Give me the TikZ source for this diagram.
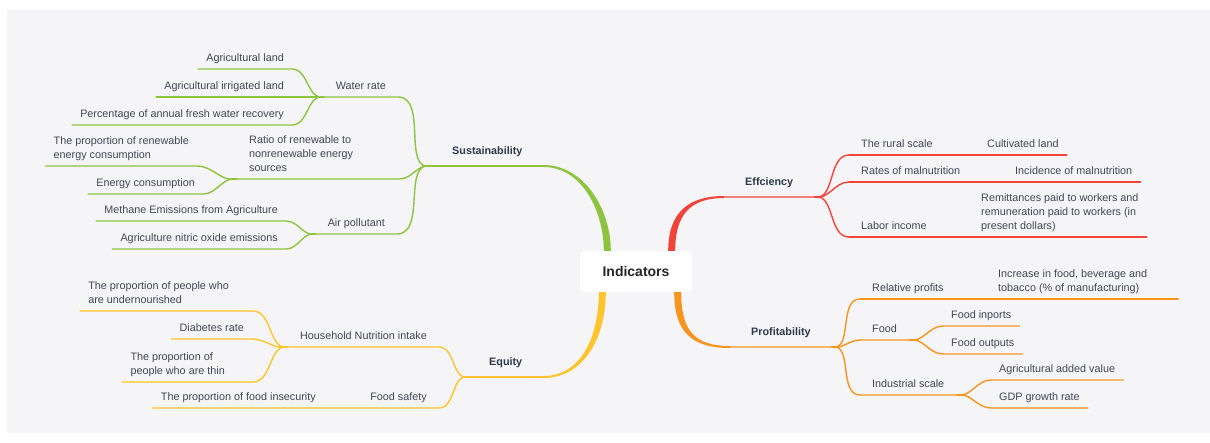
\documentclass[tikz,border=0pt]{standalone}
\usepackage{fontspec}
\setmainfont{Liberation Sans}
\usepackage{tikz}
\definecolor{mybg}{RGB}{245, 245, 248}
\definecolor{mygreen}{RGB}{141, 195, 63}
\definecolor{myred}{RGB}{240, 67, 58}
\definecolor{myorange}{RGB}{247, 148, 30}
\definecolor{myyellow}{RGB}{255, 196, 46}
\definecolor{mytext}{RGB}{64, 70, 84}
\definecolor{mynavy}{RGB}{44, 56, 76}
\tikzset{
  txt/.style={font=\fontsize{10.8}{14}\selectfont, text=mytext, inner ysep=4.5pt, text depth=2.5pt, align=left},
  leaf/.style={txt, inner xsep=8pt},
  sub/.style={txt, inner xsep=12pt},
  main/.style={font=\bfseries\fontsize{10.8}{14}\selectfont, text=mynavy, inner xsep=21pt, inner ysep=8.5pt, text depth=2.5pt},
  gl/.style={draw=mygreen, line width=1.4pt, line cap=round},
  yl/.style={draw=myyellow, line width=1.4pt, line cap=round},
  rl/.style={draw=myred, line width=1.4pt, line cap=round},
  ol/.style={draw=myorange, line width=1.4pt, line cap=round},
  lup/.style={out=0, in=192},
  ldn/.style={out=0, in=168},
  rup/.style={out=-12, in=180},
  rdn/.style={out=12, in=180},
}

\begin{document}
\begin{tikzpicture}[x=1pt, y=-1pt]
\useasboundingbox (0,0) rectangle (1210,442);
\fill[mybg] (7,10) rectangle (1210,433);

\node[fill=white, rounded corners=4pt, minimum width=112pt, minimum height=41pt, font=\bfseries\fontsize{14}{16}\selectfont, text=black!85] (ctr) at (636,271.5) {Indicators};

% first level
\node[main, anchor=south west] (sus) at (431,166) {Sustainability};
\node[main, anchor=south west] (eq) at (468,377) {Equity};
\node[main, anchor=south west] (ef) at (724,197) {Effciency};
\node[main, anchor=south west] (pf) at (730,347) {Profitability};

% second level
\node[sub, anchor=south east] (wr) at (398,97) {Water rate};
\node[sub, anchor=south west] (rt) at (237,179) {Ratio of renewable to\\nonrenewable energy\\sources};
\node[sub, anchor=south east] (ap) at (397,234) {Air pollutant};
\node[sub, anchor=south east] (hn) at (439,347) {Household Nutrition intake};
\node[sub, anchor=south east] (fs) at (439,408) {Food safety};
\node[sub, anchor=south west] (rs) at (849,155) {The rural scale};
\node[sub, anchor=south west] (rm) at (849,182) {Rates of malnutrition};
\node[sub, anchor=south west] (li) at (849,237) {Labor income};
\node[sub, anchor=south west] (rel) at (860,299) {Relative profits};
\node[sub, anchor=south west] (fd) at (860,340) {Food};
\node[sub, anchor=south west] (ind) at (860,395) {Industrial scale};

% leaves
\node[leaf, anchor=south east] (a1) at (292,69) {Agricultural land};
\node[leaf, anchor=south east] (a2) at (292,97) {Agricultural irrigated land};
\node[leaf, anchor=south east] (a3) at (292,125) {Percentage of annual fresh water recovery};
\node[leaf, anchor=south east] (rc) at (197,166) {The proportion of renewable\\energy consumption};
\node[leaf, anchor=south east] (ec) at (203,194) {Energy consumption};
\node[leaf, anchor=south east] (me) at (286,221) {Methane Emissions from Agriculture};
\node[leaf, anchor=south east] (no) at (286,249) {Agriculture nitric oxide emissions};
\node[leaf, anchor=south east] (pu) at (237,311) {The proportion of people who\\are undernourished};
\node[leaf, anchor=south east] (dr) at (252,339) {Diabetes rate};
\node[leaf, anchor=south east] (pt) at (233,382) {The proportion of\\people who are thin};
\node[leaf, anchor=south east] (fi) at (324,408) {The proportion of food insecurity};
\node[leaf, anchor=south west] (cl) at (979,155) {Cultivated land};
\node[leaf, anchor=south west] (im) at (1007,182) {Incidence of malnutrition};
\node[leaf, anchor=south west] (rp) at (973,237) {Remittances paid to workers and\\remuneration paid to workers (in\\present dollars)};
\node[leaf, anchor=south west] (ib) at (990,299) {Increase in food, beverage and\\tobacco (\% of manufacturing)};
\node[leaf, anchor=south west] (fin) at (943,326) {Food inports};
\node[leaf, anchor=south west] (fo) at (943,354) {Food outputs};
\node[leaf, anchor=south west] (av) at (991,380) {Agricultural added value};
\node[leaf, anchor=south west] (gd) at (991,408) {GDP growth rate};

% tapered main branches
\fill[mygreen] ([yshift=1pt]sus.south east) .. controls +(40,0) and +(0,-42) .. ([xshift=31pt]ctr.north west)
  -- ([xshift=24pt]ctr.north west) .. controls +(0,-40) and +(38,0) .. ([yshift=-1pt]sus.south east) -- cycle;
\fill[myred] ([xshift=-24pt]ctr.north east) .. controls +(0,-38) and +(-36,0) .. ([yshift=1pt]ef.south west)
  -- ([yshift=-1pt]ef.south west) .. controls +(-34,0) and +(0,-36) .. ([xshift=-17pt]ctr.north east) -- cycle;
\fill[myyellow] ([xshift=26pt]ctr.south west) .. controls +(0,46) and +(40,0) .. ([yshift=-1pt]eq.south east)
  -- ([yshift=1pt]eq.south east) .. controls +(38,0) and +(0,44) .. ([xshift=19pt]ctr.south west) -- cycle;
\fill[myorange] ([xshift=-18pt]ctr.south east) .. controls +(0,40) and +(-38,0) .. ([yshift=-1pt]pf.south west)
  -- ([yshift=1pt]pf.south west) .. controls +(-36,0) and +(0,38) .. ([xshift=-11pt]ctr.south east) -- cycle;

% Sustainability
\draw[gl] (sus.south west) -- (sus.south east);
\draw[gl] (wr.south west) -- (wr.south east) to[lup] (sus.south west);
\draw[gl] (rt.south west) -- (rt.south east) -- ++(34,0) to[ldn] (sus.south west);
\draw[gl] (ap.south west) -- (ap.south east) to[ldn] (sus.south west);
\draw[gl] (a1.south west) -- (a1.south east) to[lup] (wr.south west);
\draw[gl] (a2.south west) -- (wr.south west);
\draw[gl] (a3.south west) -- (a3.south east) to[ldn] (wr.south west);
\draw[gl] (rc.south west) -- (rc.south east) to[lup] (rt.south west);
\draw[gl] (ec.south west) -- (ec.south east) to[ldn] (rt.south west);
\draw[gl] (me.south west) -- (me.south east) to[lup] (ap.south west);
\draw[gl] (no.south west) -- (no.south east) to[ldn] (ap.south west);

% Equity
\draw[yl] (eq.south west) -- (eq.south east);
\draw[yl] (hn.south west) -- (hn.south east) to[lup] (eq.south west);
\draw[yl] (fi.south west) -- (fi.south east) -- (fs.south west) -- (fs.south east) to[ldn] (eq.south west);
\draw[yl] (pu.south west) -- (pu.south east) -- ++(16,0) to[lup] (hn.south west);
\draw[yl] (dr.south west) -- (dr.south east) to[lup] (hn.south west);
\draw[yl] (pt.south west) -- (pt.south east) -- ++(20,0) to[ldn] (hn.south west);

% Effciency
\draw[rl] (ef.south west) -- (ef.south east) to[rup] (rs.south west);
\draw[rl] (ef.south east) to[rup] (rm.south west);
\draw[rl] (ef.south east) to[rdn] (li.south west);
\draw[rl] (rs.south west) -- (rs.south east) -- (cl.south west) -- (cl.south east);
\draw[rl] (rm.south west) -- (rm.south east) -- (im.south west) -- (im.south east);
\draw[rl] (li.south west) -- (li.south east) -- (rp.south west) -- (rp.south east);

% Profitability
\draw[ol] (pf.south west) -- (pf.south east) to[rup] (rel.south west);
\draw[ol] (pf.south east) to[rup] (fd.south west);
\draw[ol] (pf.south east) to[rdn] (ind.south west);
\draw[ol] (rel.south west) -- (rel.south east) -- (ib.south west) -- (ib.south east) -- ++(23,0);
\draw[ol] (fd.south west) -- (fd.south east) to[rup] (fin.south west) -- (fin.south east);
\draw[ol] (fd.south east) to[rdn] (fo.south west) -- (fo.south east);
\draw[ol] (ind.south west) -- (ind.south east) to[rup] (av.south west) -- (av.south east);
\draw[ol] (ind.south east) to[rdn] (gd.south west) -- (gd.south east);
\end{tikzpicture}
\end{document}
